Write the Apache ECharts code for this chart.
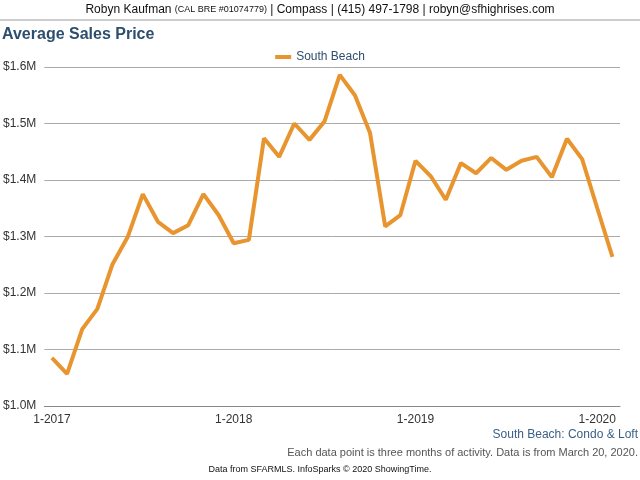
<!DOCTYPE html>
<html><head><meta charset="utf-8">
<script src="https://cdn.jsdelivr.net/npm/echarts@6/dist/echarts.min.js"></script>
<style>body{margin:0}#c{width:640px;height:480px}</style></head>
<body><div id="c"></div>
<script>
const categories = [];
const monthLabels = ['1-2017','2-2017','3-2017','4-2017','5-2017','6-2017','7-2017','8-2017','9-2017','10-2017','11-2017','12-2017',
'1-2018','2-2018','3-2018','4-2018','5-2018','6-2018','7-2018','8-2018','9-2018','10-2018','11-2018','12-2018',
'1-2019','2-2019','3-2019','4-2019','5-2019','6-2019','7-2019','8-2019','9-2019','10-2019','11-2019','12-2019',
'1-2020','2-2020'];
monthLabels.forEach(m=>categories.push(m));
const southBeach = [1.085,1.057,1.136,1.172,1.251,1.299,1.375,1.326,1.306,1.320,1.375,1.338,
1.288,1.294,1.474,1.441,1.500,1.471,1.504,1.586,1.550,1.483,1.318,1.338,
1.434,1.407,1.365,1.430,1.412,1.439,1.418,1.434,1.441,1.405,1.473,1.437,1.350,1.264];
const yTicks = [1.0,1.1,1.2,1.3,1.4,1.5,1.6];
const chart = echarts.init(document.getElementById('c'));
const F = 'Liberation Sans, Arial, sans-serif';
chart.setOption({
  animation:false,
  textStyle:{fontFamily:F},
  graphic:[
    {type:'rect',shape:{x:0,y:0,width:640,height:20},style:{fill:'#fff'}},
    {type:'text',left:'center',top:4,style:{rich:{a:{fontSize:12,fill:'#111',fontFamily:F},b:{fontSize:9,fill:'#111',fontFamily:F}},
      text:'{a|Robyn Kaufman }{b|(CAL BRE #01074779)}{a| | Compass | (415) 497-1798 | robyn@sfhighrises.com}'}},
    {type:'line',shape:{x1:0,y1:20,x2:640,y2:20},style:{stroke:'#999',lineWidth:1}},
    {type:'text',left:2,top:27,style:{text:'Average Sales Price',fontSize:16,fontWeight:'bold',fill:'#2d4e6e',fontFamily:F}},
    {type:'text',right:2,top:429,style:{text:'South Beach: Condo & Loft',fontSize:12,fill:'#3b6186',fontFamily:F}},
    {type:'text',right:2,top:447,style:{text:'Each data point is three months of activity. Data is from March 20, 2020.',fontSize:11,fill:'#555',fontFamily:F}},
    {type:'text',left:'center',top:465,style:{text:'Data from SFARMLS. InfoSparks © 2020 ShowingTime.',fontSize:9,fill:'#111',fontFamily:F}}
  ],
  legend:{top:46,left:'center',itemWidth:16,itemHeight:4,icon:'rect',textStyle:{fontSize:12,color:'#2d4e6e'},data:['South Beach']},
  grid:{left:43,right:20,top:67,bottom:74},
  xAxis:{type:'category',data:categories,boundaryGap:true,
    axisLine:{lineStyle:{color:'#888'}},
    axisTick:{alignWithLabel:true,interval:(i)=>i%12===0,lineStyle:{color:'#888'}},
    axisLabel:{interval:(i)=>i%12===0,color:'#333',fontSize:12}},
  yAxis:{type:'value',min:yTicks[0],max:yTicks[yTicks.length-1],interval:0.1,
    axisLabel:{formatter:v=>'$'+v.toFixed(1)+'M',color:'#333',fontSize:12},
    splitLine:{lineStyle:{color:'#aaa'}},axisLine:{show:false},axisTick:{show:false}},
  series:[{name:'South Beach',type:'line',data:southBeach,showSymbol:false,
    lineStyle:{color:'#e8952f',width:4},itemStyle:{color:'#e8952f'}}]
});
</script></body></html>
